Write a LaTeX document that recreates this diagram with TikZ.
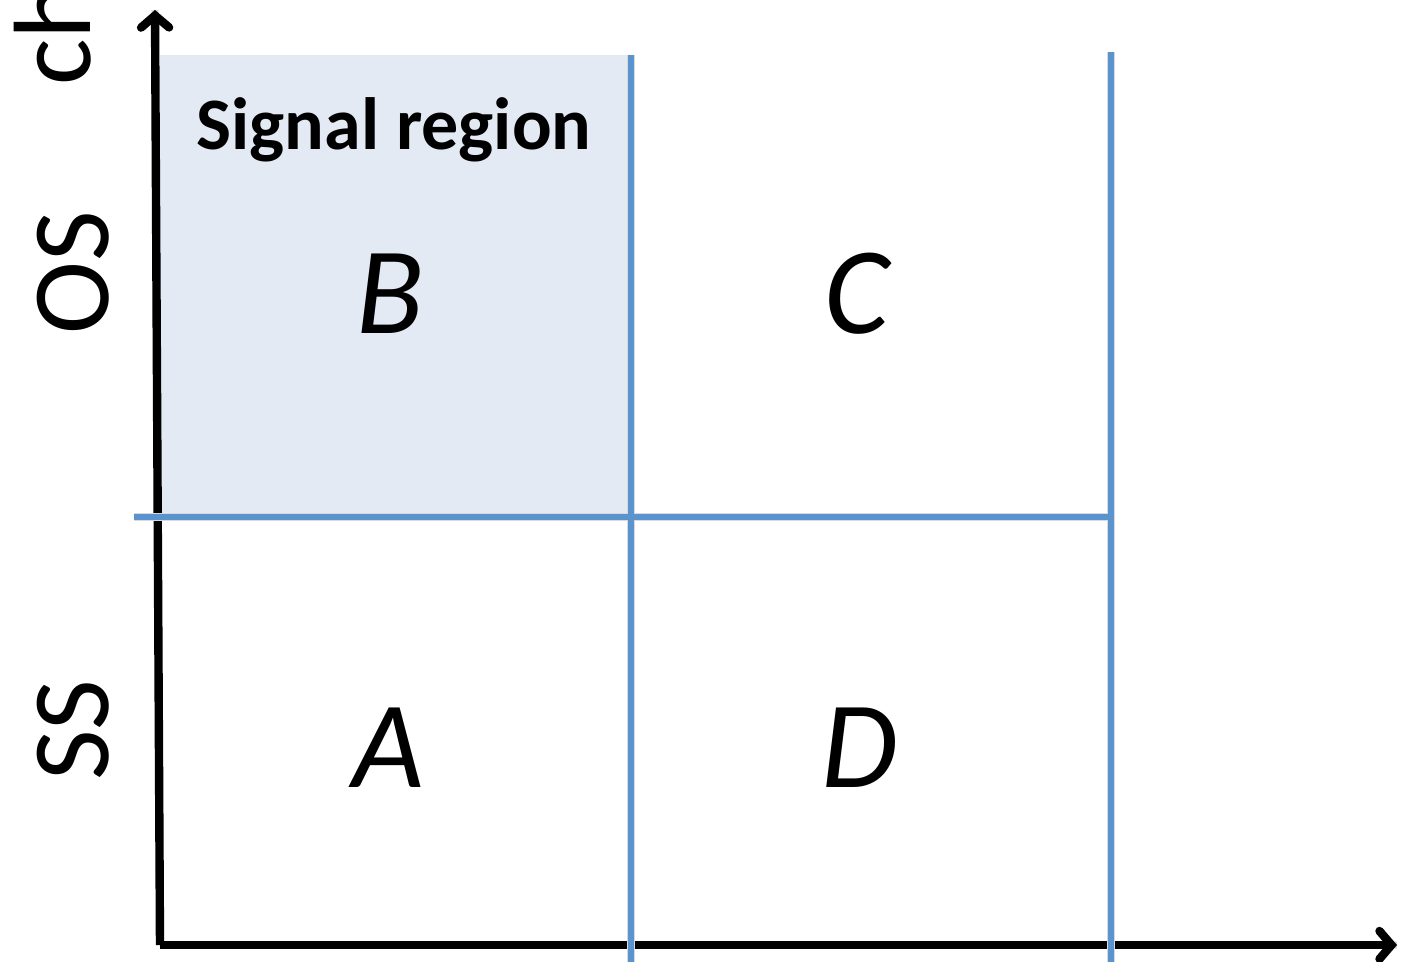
\documentclass[tikz,border=0pt]{standalone}
\usepackage{fontspec}
\setmainfont{Carlito}
\usetikzlibrary{arrows.meta}
\tikzset{>={Straight Barb[length=6pt,width=14pt,line cap=round]}}
\definecolor{cutblue}{HTML}{5B93CE}
\definecolor{sigfill}{HTML}{E3EAF4}
\tikzset{
  axis/.style={line width=4.2pt, ->},
  cut/.style={line width=3.4pt, cutblue},
  shade/.style={line width=3.6pt, black!15, shift={(2,3)}},
  region/.style={font=\fontsize{62}{70}\selectfont\itshape, anchor=base},
  sign/.style={font=\fontsize{55}{60}\selectfont, rotate=90, anchor=base},
}

\begin{document}
\begin{tikzpicture}[x=0.5pt, y=-0.5pt]
\useasboundingbox (0,0) rectangle (1403,962);
\clip (0,0) rectangle (1403,962);

% signal region shading
\fill[sigfill] (160,55) rectangle (631,517);

% axes
\coordinate (O) at (160,945);
\coordinate (ytop) at (155,10);
\coordinate (xend) at (1397,945);
\draw[shade] (O) -- (ytop) (O) -- (xend);
\draw[axis] (O) -- (ytop);
\draw[axis] (O) -- (xend);

% cut lines
\coordinate (c1top) at (631,55);
\coordinate (c1bot) at (631,962);
\coordinate (c2top) at (1111,52);
\coordinate (c2bot) at (1111,962);
\coordinate (hl) at (134,517);
\coordinate (hr) at (1111,517);
\draw[shade] (c1top) -- (c1bot) (c2top) -- (c2bot) (hl) -- (hr);
\draw[cut] (c1top) -- (c1bot);
\draw[cut] (c2top) -- (c2bot);
\draw[cut] (hl) -- (hr);

% labels
\node[font=\fontsize{37}{44}\selectfont\bfseries, anchor=base] (sig) at (394,150) {Signal region};
\node[region] (B) at (390,334) {B};
\node[region] (C) at (857,334) {C};
\node[region] (A) at (388,787) {A};
\node[region] (D) at (860,787) {D};

\node[sign] (OS) at (108,273) {OS};
\node[sign] (SS) at (108,730) {SS};
\node[sign, anchor=base west, inner sep=0pt] (ch) at (90,86) {ch};
\end{tikzpicture}
\end{document}
